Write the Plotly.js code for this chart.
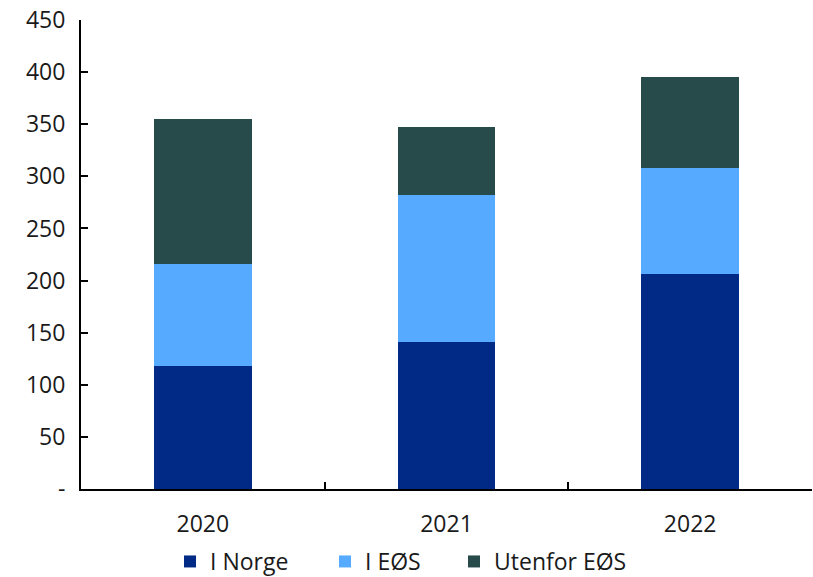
<!DOCTYPE html>
<html><head><meta charset="utf-8">
<script src="https://cdn.plot.ly/plotly-3.0.1.min.js"></script>
<style>html,body{margin:0;padding:0;background:#fff}#chart{width:813px;height:577px}</style>
</head><body><div id="chart"></div>
<script>
const categories = ["2020", "2021", "2022"];
const iNorge = [118, 141, 206];
const iEOS = [98, 141, 102];
const utenforEOS = [139, 65, 87];
const yTickVals = [0, 50, 100, 150, 200, 250, 300, 350, 400, 450];
const yTickText = ["-", "50", "100", "150", "200", "250", "300", "350", "400", "450"];

const font = {family: "Open Sans, Noto Sans, sans-serif", size: 23, color: "#1a1a1a"};
const mk = (name, y, color, lw) => ({
  type: "bar", name: name, x: categories, y: y, legendwidth: lw,
  marker: {color: color, line: {width: 0}}
});
const data = [
  mk("I Norge", iNorge, "#012A86", 110),
  mk("I EØS", iEOS, "#56AAFF", 84),
  mk("Utenfor EØS", utenforEOS, "#264B4A")
];
const layout = {
  width: 813, height: 577,
  margin: {l: 81, r: 1, t: 20, b: 88, autoexpand: false},
  barmode: "stack", bargap: 0.6,
  paper_bgcolor: "#fff", plot_bgcolor: "#fff",
  font: font,
  showlegend: true,
  legend: {orientation: "h", x: 170/813, xanchor: "left", xref: "container",
           y: 1 - 540/577, yanchor: "top", yref: "container",
           font: font, traceorder: "normal", itemwidth: 30},
  xaxis: {type: "category", showline: true, linecolor: "#000", linewidth: 2,
          ticks: "inside", tickson: "boundaries", ticklen: 7, tickwidth: 2, tickcolor: "#000",
          showgrid: false, zeroline: false, ticklabelstandoff: 13, tickfont: font, automargin: false},
  yaxis: {range: [0, 450], showline: true, linecolor: "#000", linewidth: 2,
          ticks: "inside", ticklen: 7, tickwidth: 2, tickcolor: "#000",
          tickvals: yTickVals, ticktext: yTickText, showgrid: false, zeroline: false,
          ticklabelstandoff: 9, tickfont: font, automargin: false}
};
Plotly.newPlot("chart", data, layout, {displayModeBar: false, staticPlot: true});
</script></body></html>
